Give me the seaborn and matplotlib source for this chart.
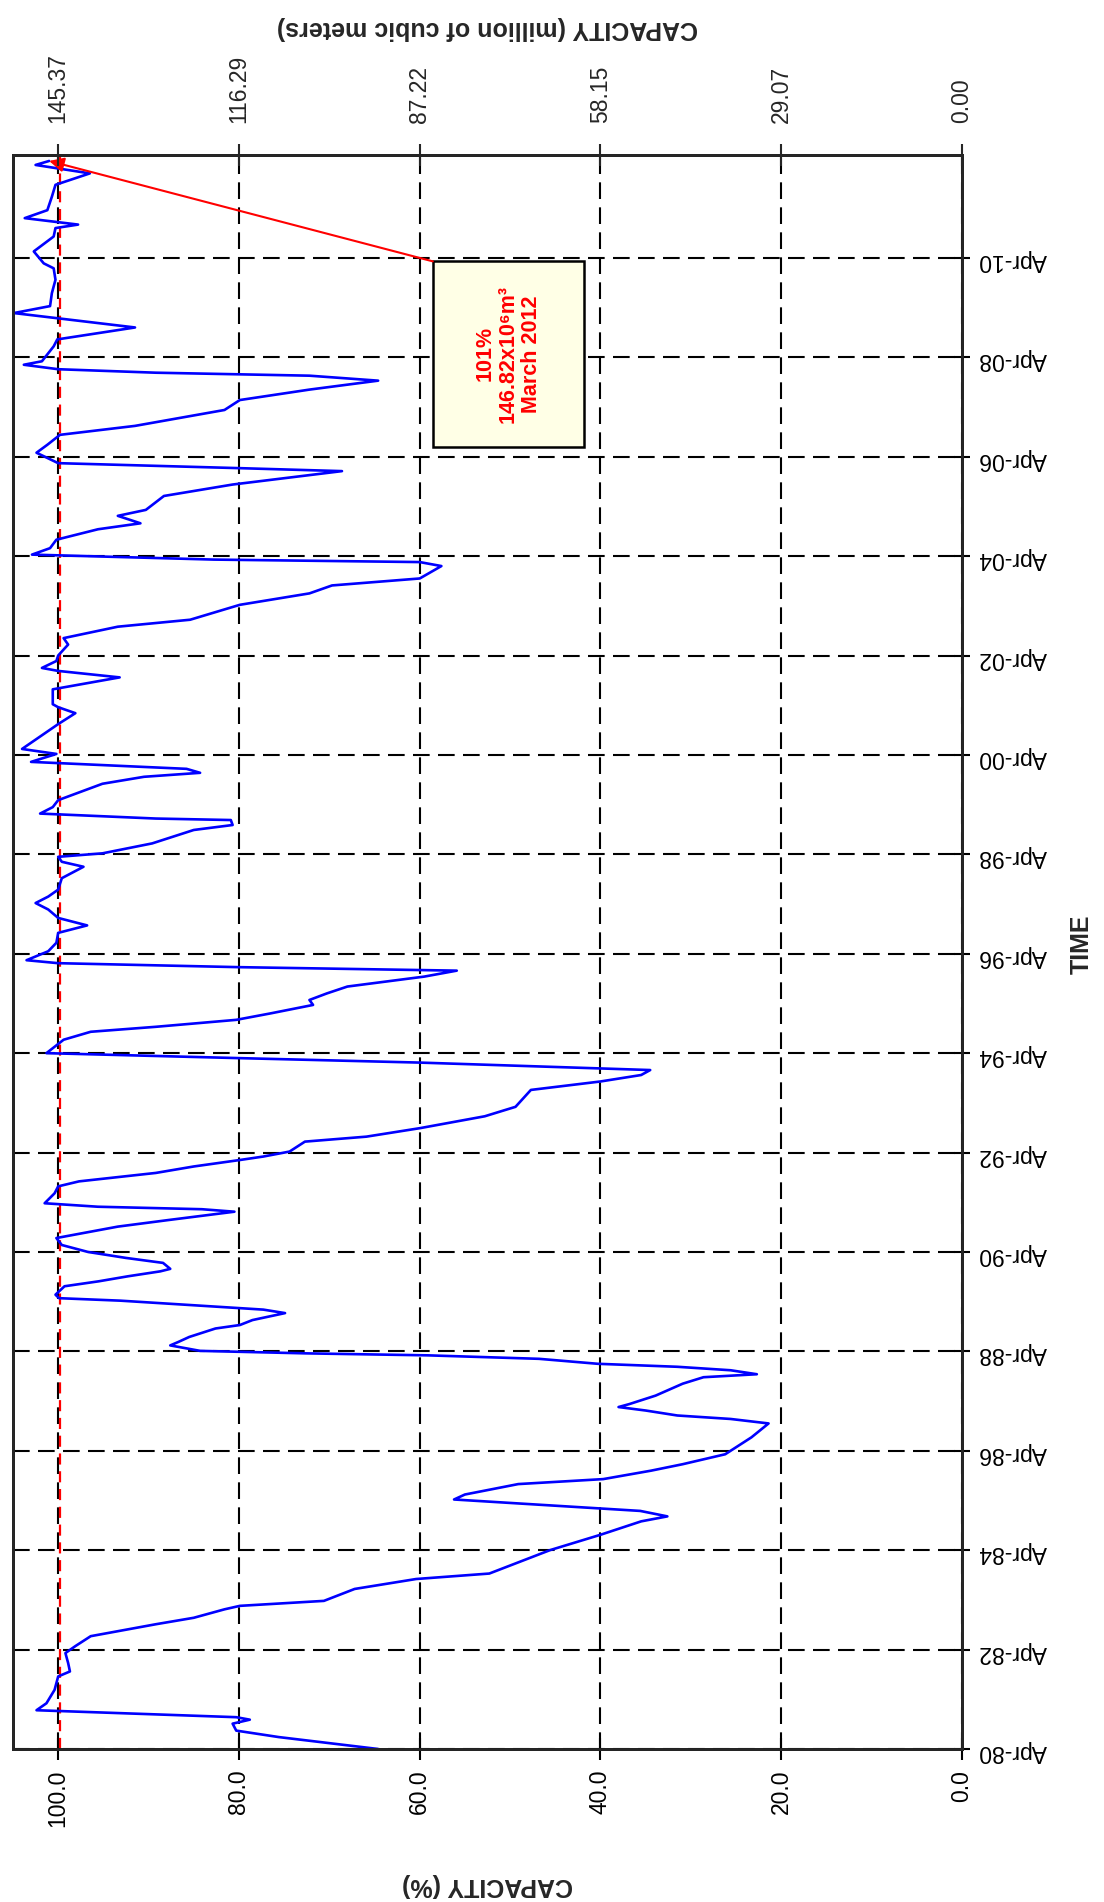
import matplotlib
matplotlib.use("Agg")
import matplotlib.pyplot as plt
import matplotlib.transforms as mtransforms
import numpy as np
import pandas as pd
import seaborn as sns
from matplotlib.patches import Rectangle

# Reservoir storage record, April 1980 - March 2012 (decimal years, % of capacity)
year = [
    1980.25, 1980.49, 1980.62, 1980.76, 1980.84, 1980.89, 1981.03, 1981.17, 1981.44, 1981.71,
    1981.81, 1981.98, 1982.18, 1982.32, 1982.52, 1982.62, 1982.76, 1982.89, 1983.06, 1983.13,
    1983.23, 1983.47, 1983.67, 1983.78, 1984.25, 1984.56, 1984.83, 1984.93, 1985.04, 1985.27,
    1985.37, 1985.58, 1985.68, 1985.85, 1985.98, 1986.18, 1986.52, 1986.80, 1986.89, 1986.96,
    1987.06, 1987.13, 1987.19, 1987.36, 1987.60, 1987.73, 1987.79, 1987.87, 1987.94, 1988.00,
    1988.10, 1988.17, 1988.21, 1988.26, 1988.37, 1988.44, 1988.54, 1988.71, 1988.78, 1988.88,
    1989.02, 1989.09, 1989.17, 1989.27, 1989.32, 1989.39, 1989.56, 1989.66, 1989.76, 1989.86,
    1989.91, 1990.03, 1990.13, 1990.25, 1990.39, 1990.53, 1990.76, 1990.89, 1991.06, 1991.11,
    1991.16, 1991.23, 1991.43, 1991.57, 1991.67, 1991.84, 1991.97, 1992.10, 1992.17, 1992.27,
    1992.47, 1992.57, 1992.74, 1992.98, 1993.17, 1993.51, 1993.68, 1993.81, 1993.91, 1994.06,
    1994.15, 1994.25, 1994.52, 1994.68, 1994.78, 1994.92, 1995.05, 1995.22, 1995.32, 1995.45,
    1995.59, 1995.79, 1995.91, 1995.98, 1996.06, 1996.12, 1996.30, 1996.47, 1996.67, 1996.82,
    1996.97, 1997.14, 1997.27, 1997.40, 1997.54, 1997.77, 1998.00, 1998.10, 1998.20, 1998.27,
    1998.47, 1998.74, 1998.84, 1998.94, 1998.97, 1999.07, 1999.20, 1999.34, 1999.67, 1999.81,
    1999.89, 1999.97, 2000.11, 2000.27, 2000.37, 2000.87, 2001.09, 2001.21, 2001.27, 2001.57,
    2001.81, 2001.94, 2002.00, 2002.14, 2002.25, 2002.47, 2002.60, 2002.83, 2002.97, 2003.27,
    2003.50, 2003.66, 2003.80, 2004.05, 2004.13, 2004.18, 2004.28, 2004.41, 2004.58, 2004.79,
    2004.91, 2005.06, 2005.18, 2005.46, 2005.69, 2005.96, 2006.02, 2006.12, 2006.33, 2006.49,
    2006.69, 2006.87, 2007.19, 2007.39, 2007.60, 2007.78, 2007.88, 2007.94, 2008.01, 2008.10,
    2008.17, 2008.47, 2008.61, 2008.85, 2009.14, 2009.28, 2009.54, 2009.81, 2010.04, 2010.14,
    2010.38, 2010.68, 2010.85, 2010.92, 2011.05, 2011.21, 2011.48, 2011.72, 2011.95, 2012.12,
    2012.20,
]
capacity_pct = [
    64.6, 75.6, 80.3, 80.7, 78.8, 80.3, 102.4, 101.3, 100.4, 100.0,
    98.7, 98.9, 99.2, 98.1, 96.4, 93.4, 89.2, 85.0, 81.6, 79.9,
    70.6, 67.2, 60.4, 52.3, 45.6, 40.0, 35.5, 32.6, 35.6, 56.2,
    55.0, 49.1, 39.7, 34.4, 30.9, 26.2, 23.3, 21.4, 25.6, 31.5,
    35.0, 38.0, 36.8, 33.9, 30.9, 28.6, 22.7, 25.6, 31.5, 40.3,
    46.8, 59.1, 72.6, 84.3, 87.6, 86.7, 85.5, 82.6, 79.9, 78.5,
    74.9, 77.3, 84.3, 93.1, 99.9, 100.3, 99.3, 95.5, 92.3, 88.7,
    87.6, 88.4, 92.5, 96.7, 99.6, 100.2, 93.4, 87.9, 80.5, 84.1,
    95.6, 101.5, 100.4, 100.0, 97.7, 89.2, 85.0, 79.9, 77.3, 74.4,
    72.7, 65.9, 60.0, 52.8, 49.4, 47.7, 40.0, 35.5, 34.5, 60.0,
    80.0, 101.3, 99.4, 96.4, 89.2, 80.3, 76.5, 71.8, 72.2, 70.3,
    68.0, 59.5, 55.9, 80.0, 100.0, 103.5, 101.1, 100.2, 100.0, 96.8,
    100.0, 101.1, 102.5, 101.1, 100.0, 99.6, 97.2, 99.6, 100.0, 95.1,
    89.6, 85.0, 80.7, 80.9, 89.2, 102.0, 100.6, 100.0, 95.1, 90.5,
    84.3, 85.8, 103.0, 100.2, 104.0, 100.0, 98.1, 100.0, 100.6, 100.6,
    93.2, 100.0, 101.8, 100.2, 100.0, 98.9, 99.4, 93.4, 85.4, 79.9,
    72.2, 69.7, 60.0, 57.6, 60.0, 82.8, 102.9, 100.9, 100.2, 95.6,
    90.9, 93.4, 90.3, 88.3, 80.7, 68.6, 80.0, 100.0, 102.4, 101.2,
    99.8, 91.5, 81.6, 79.9, 72.2, 64.6, 72.2, 89.2, 100.0, 103.8,
    101.8, 100.5, 100.1, 91.5, 104.9, 100.9, 100.7, 100.3, 100.5, 101.6,
    102.7, 100.5, 100.3, 97.8, 103.7, 101.2, 100.7, 100.3, 96.5, 102.5,
    101.0,
]

pct_ticks = [100, 80, 60, 40, 20, 0]
pct_labels = ["100.0", "80.0", "60.0", "40.0", "20.0", "0.0"]
volume_labels = ["145.37", "116.29", "87.22", "58.15", "29.07", "0.00"]
time_labels = ["Apr-80", "Apr-82", "Apr-84", "Apr-86", "Apr-88", "Apr-90", "Apr-92", "Apr-94",
               "Apr-96", "Apr-98", "Apr-00", "Apr-02", "Apr-04", "Apr-06", "Apr-08", "Apr-10"]
time_ticks = [1980.25 + 2 * i for i in range(len(time_labels))]

full_supply_pct = 100.0
note_pct = capacity_pct[-1]
note_year = year[-1]
note_text = "101%\n146.82x10\u2076m\u00b3\nMarch 2012"

df = pd.DataFrame({"year": year, "capacity": capacity_pct})

sns.set_style("white")
plt.rcParams["font.family"] = ["Liberation Sans", "DejaVu Sans"]

W, H = 1104, 1902
fig = plt.figure(figsize=(W / 100, H / 100), dpi=100)
fig.patch.set_facecolor("white")
ax = fig.add_axes([13 / W, (H - 1749) / H, 949 / W, 1594 / H])

grid_kw = dict(color="black", linestyle=(0, (8, 4)), linewidth=1.5)
ax.grid(True, **grid_kw)
ax.set_axisbelow(True)

# Full supply level, nudged a couple of pixels so the grid line beneath stays visible
red_shift = mtransforms.offset_copy(ax.get_xaxis_transform(), fig=fig, x=2, y=0, units="dots")
ax.plot([full_supply_pct, full_supply_pct], [0, 1], transform=red_shift, color="red",
        linestyle=(0, (5, 3)), linewidth=1.6, zorder=2)

sns.lineplot(data=df, x="capacity", y="year", orient="y", sort=False, estimator=None,
             color="#0000FF", linewidth=1.9, ax=ax, zorder=3)

ax.set_xlim(105, 0)
ax.set_ylim(1980.25, 2012.32)

tick_fs = 16.5
ax.set_xticks(pct_ticks)
ax.set_xticklabels(pct_labels, rotation=90, fontsize=tick_fs)
ax.yaxis.tick_right()
ax.set_yticks(time_ticks)
ax.set_yticklabels(time_labels, rotation=180, fontsize=tick_fs)
ax.tick_params(axis="x", direction="inout", length=16, width=1.5, pad=7, colors="black")
ax.tick_params(axis="y", direction="inout", length=12, width=1.5, pad=6, colors="black",
               left=False, right=True)

for s in ax.spines.values():
    s.set_linewidth(2.0)
    s.set_color("black")

ax.set_xlabel("CAPACITY (%)", rotation=180, fontsize=18, fontweight="bold")
ax.xaxis.set_label_coords(0.5, -0.078)
ax.set_ylabel("TIME", rotation=90, fontsize=18, fontweight="bold")
ax.yaxis.set_label_position("right")
ax.yaxis.set_label_coords(1.114, 0.505)

top = ax.twiny()
top.set_xlim(ax.get_xlim())
top.set_xticks(pct_ticks)
top.set_xticklabels(volume_labels, rotation=90, fontsize=tick_fs)
top.tick_params(axis="x", direction="inout", length=16, width=1.5, pad=15)
top.set_xlabel("CAPACITY (million of cubic meters)", rotation=180, fontsize=18, fontweight="bold")
top.xaxis.set_label_coords(0.5, 1.075)
for s in top.spines.values():
    s.set_linewidth(2.0)

# Note box with arrow pointing at the latest reading
box = Rectangle((41.85, 2006.45), 16.7, 3.73, facecolor="#FFFFE6", edgecolor="black",
                linewidth=1.8, zorder=4)
ax.add_patch(box)
ax.text(50.2, 2008.32, note_text, rotation=90, ha="center", va="center", color="red",
        fontsize=15.5, fontweight="bold", linespacing=1.15, multialignment="center", zorder=5)
ax.annotate("", xy=(note_pct, note_year), xytext=(58.55, 2010.18),
            arrowprops=dict(arrowstyle="-|>", color="red", lw=1.5, mutation_scale=22,
                            shrinkA=0, shrinkB=0), zorder=5)

fig.savefig("out.png", dpi=100, facecolor="white")
